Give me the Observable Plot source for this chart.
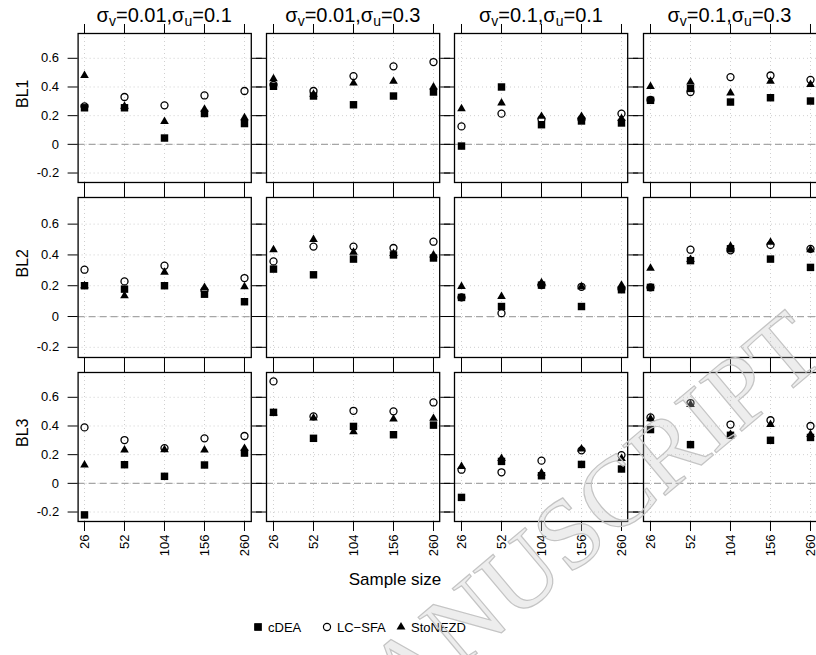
<!DOCTYPE html>
<html>
<head>
<meta charset="utf-8">
<script src="https://cdn.jsdelivr.net/npm/d3@7"></script>
<script src="https://cdn.jsdelivr.net/npm/@observablehq/plot@0.6"></script>
<style>
  body { margin: 0; background: #fff; }
  #fig { position: relative; width: 816px; height: 655px; overflow: hidden; background: #fff;
         font-family: "Liberation Sans", Arial, sans-serif; color: #000; }
  #fig svg.panel { position: absolute; }
  .coltitle { position: absolute; font-size: 20px; text-align: center; white-space: nowrap; line-height: 24px; }
  .coltitle sub { font-size: 0.7em; vertical-align: -0.3em; line-height: 0; }
  .xtitle { position: absolute; font-size: 17px; white-space: nowrap; transform: translateX(-50%); line-height: 20px; }
  .legend-item { position: absolute; font-size: 13px; line-height: 16px; white-space: nowrap; }
  #watermark { position: absolute; left: 0; top: 0; pointer-events: none; }
</style>
</head>
<body>
<div id="fig"></div>
<script>
// Categories and labels
const sampleSizes = ["26", "52", "104", "156", "260"];
const rowNames = ["BL1", "BL2", "BL3"];
const sigmaV = ["0.01", "0.01", "0.1", "0.1"];
const sigmaU = ["0.1", "0.3", "0.1", "0.3"];
const methods = ["cDEA", "LC\u2212SFA", "StoNEZD"];
const yTicks = [-0.2, 0, 0.2, 0.4, 0.6];
const yTickLabels = ["-0.2", "0", "0.2", "0.4", "0.6"];

// Values: one inner array per σ setting (left to right), entries follow sampleSizes
const cDEA_BL1    = [[0.255, 0.255, 0.044, 0.215, 0.145], [0.405, 0.337, 0.276, 0.337, 0.365], [-0.012, 0.400, 0.137, 0.163, 0.149], [0.307, 0.390, 0.295, 0.325, 0.302]];
const lcsfa_BL1   = [[0.265, 0.330, 0.272, 0.341, 0.372], [0.415, 0.372, 0.476, 0.544, 0.574], [0.125, 0.214, 0.175, 0.175, 0.214], [0.310, 0.365, 0.469, 0.480, 0.450]];
const stonezd_BL1 = [[0.480, 0.265, 0.160, 0.245, 0.185], [0.458, 0.350, 0.427, 0.440, 0.400], [0.249, 0.288, 0.195, 0.195, 0.180], [0.404, 0.434, 0.358, 0.440, 0.418]];

const cDEA_BL2    = [[0.200, 0.178, 0.200, 0.145, 0.096], [0.308, 0.271, 0.373, 0.400, 0.380], [0.124, 0.065, 0.204, 0.065, 0.174], [0.189, 0.363, 0.440, 0.373, 0.319]];
const lcsfa_BL2   = [[0.304, 0.228, 0.330, 0.170, 0.250], [0.358, 0.454, 0.454, 0.445, 0.486], [0.124, 0.022, 0.204, 0.193, 0.180], [0.189, 0.434, 0.430, 0.465, 0.439]];
const stonezd_BL2 = [[0.200, 0.135, 0.287, 0.189, 0.193], [0.434, 0.500, 0.417, 0.410, 0.400], [0.195, 0.130, 0.220, 0.193, 0.204], [0.313, 0.370, 0.456, 0.482, 0.434]];

const cDEA_BL3    = [[-0.220, 0.130, 0.049, 0.128, 0.211], [0.495, 0.314, 0.397, 0.339, 0.406], [-0.098, 0.153, 0.053, 0.132, 0.100], [0.375, 0.270, 0.335, 0.300, 0.320]];
const lcsfa_BL3   = [[0.390, 0.302, 0.246, 0.314, 0.330], [0.711, 0.467, 0.506, 0.502, 0.564], [0.095, 0.077, 0.158, 0.230, 0.197], [0.460, 0.560, 0.410, 0.440, 0.400]];
const stonezd_BL3 = [[0.128, 0.232, 0.235, 0.232, 0.244], [0.490, 0.455, 0.360, 0.448, 0.453], [0.118, 0.174, 0.072, 0.239, 0.174], [0.450, 0.550, 0.340, 0.410, 0.340]];

const seriesByRow = [
  [cDEA_BL1, lcsfa_BL1, stonezd_BL1],
  [cDEA_BL2, lcsfa_BL2, stonezd_BL2],
  [cDEA_BL3, lcsfa_BL3, stonezd_BL3]
];

// Layout of the 3 x 4 panel grid (pixels)
const colLeft = [77.6, 266.3, 454.4, 642.8];
const panelW = 173.2;
const rowTop = [33, 197, 372];
const rowH = [149, 160, 149];
const yDomain = [-0.266, 0.773];

const fig = document.getElementById("fig");
const fontFamily = "'Liberation Sans', Arial, sans-serif";

function drawPanel(r, c) {
  const mL = c === 0 ? colLeft[0] : 12;
  const mR = 12, mT = 12;
  const mB = r === 2 ? 48 : 12;
  const [dea, lc, sto] = seriesByRow[r].map(s =>
    sampleSizes.map((size, i) => ({size, value: s[c][i]})));

  const marks = [
    Plot.gridY(yTicks, {stroke: "#cfcfcf", strokeOpacity: 1, strokeDasharray: "1,3"}),
    Plot.gridX(sampleSizes, {stroke: "#cfcfcf", strokeOpacity: 1, strokeDasharray: "1,3"}),
    Plot.ruleY([0], {stroke: "#a6a6a6", strokeWidth: 1.3, strokeDasharray: "7,4"}),
    Plot.axisY(yTicks, {anchor: "left", tickSize: 10, tickPadding: 9, label: null,
      tickFormat: c === 0 ? (d => yTickLabels[yTicks.indexOf(d)]) : () => ""}),
    Plot.axisY(yTicks, {anchor: "right", tickSize: 10, label: null, tickFormat: () => ""}),
    Plot.axisX(sampleSizes, {anchor: "top", tickSize: 10, label: null, tickFormat: () => ""}),
    Plot.axisX(sampleSizes, {anchor: "bottom", tickSize: 10, tickPadding: 3, tickRotate: -90, label: null,
      tickFormat: r === 2 ? (d => d) : () => ""}),
    Plot.dot(dea, {x: "size", y: "value", symbol: "square", r: 4.2, fill: "black", stroke: "none"}),
    Plot.dot(lc, {x: "size", y: "value", symbol: "circle", r: 3.5, fill: "none", stroke: "black", strokeWidth: 1.3}),
    Plot.dot(sto, {x: "size", y: "value", symbol: "triangle", r: 3.2, fill: "black", stroke: "none"}),
    Plot.frame({stroke: "black", strokeWidth: 1.3})
  ];
  if (c === 0) {
    marks.push(Plot.text([rowNames[r]], {text: d => d, frameAnchor: "left", dx: -55, rotate: -90, fontSize: 16}));
  }

  const svg = Plot.plot({
    width: mL + panelW + mR,
    height: mT + rowH[r] + mB,
    marginLeft: mL, marginRight: mR, marginTop: mT, marginBottom: mB,
    style: `background: transparent; overflow: visible; font-family: ${fontFamily}; font-size: 13px; color: black;`,
    x: {type: "point", domain: sampleSizes, padding: 0.16, axis: null},
    y: {domain: yDomain, axis: null},
    marks
  });
  svg.classList.add("panel");
  svg.style.position = "absolute";
  svg.style.left = (colLeft[c] - mL) + "px";
  svg.style.top = (rowTop[r] - mT) + "px";
  fig.appendChild(svg);
}

for (let r = 0; r < 3; ++r) for (let c = 0; c < 4; ++c) drawPanel(r, c);

// Column titles
sigmaV.forEach((v, c) => {
  const d = document.createElement("div");
  d.className = "coltitle";
  d.style.left = colLeft[c] + "px";
  d.style.width = panelW + "px";
  d.style.top = "3px";
  d.innerHTML = `σ<sub>v</sub>=${v},σ<sub>u</sub>=${sigmaU[c]}`;
  fig.appendChild(d);
});

// Shared x-axis title
const xt = document.createElement("div");
xt.className = "xtitle";
xt.style.left = "395px";
xt.style.top = "570px";
xt.textContent = "Sample size";
fig.appendChild(xt);

// Legend
const legendSymbols = [
  {type: d3.symbolSquare, size: 60, fill: "black", stroke: "none"},
  {type: d3.symbolCircle, size: 40, fill: "none", stroke: "black"},
  {type: d3.symbolTriangle, size: 34, fill: "black", stroke: "none"}
];
const legendX = [258, 327, 401];
methods.forEach((m, i) => {
  const s = legendSymbols[i];
  const item = document.createElement("div");
  item.className = "legend-item";
  item.style.left = (legendX[i] - 7) + "px";
  item.style.top = "620px";
  item.innerHTML = `<svg width="14" height="14" style="vertical-align:-2px;margin-right:3px">
    <path transform="translate(7,7)" d="${d3.symbol(s.type, s.size)()}" fill="${s.fill}" stroke="${s.stroke}" stroke-width="1.2"></path></svg>${m}`;
  fig.appendChild(item);
});

// Diagonal watermark
const wm = d3.select(fig).append("svg").attr("id", "watermark").attr("width", 816).attr("height", 655);
wm.append("text")
  .attr("transform", "translate(560,540) rotate(-40)")
  .attr("text-anchor", "middle")
  .attr("dominant-baseline", "central")
  .attr("font-family", "'Liberation Serif', 'DejaVu Serif', serif")
  .attr("font-size", 100)
  .attr("fill", "#c4c4c4")
  .attr("fill-opacity", 0.3)
  .attr("stroke", "#c4c4c4")
  .attr("stroke-width", 1.2)
  .text("MANUSCRIPT");
</script>
</body>
</html>
